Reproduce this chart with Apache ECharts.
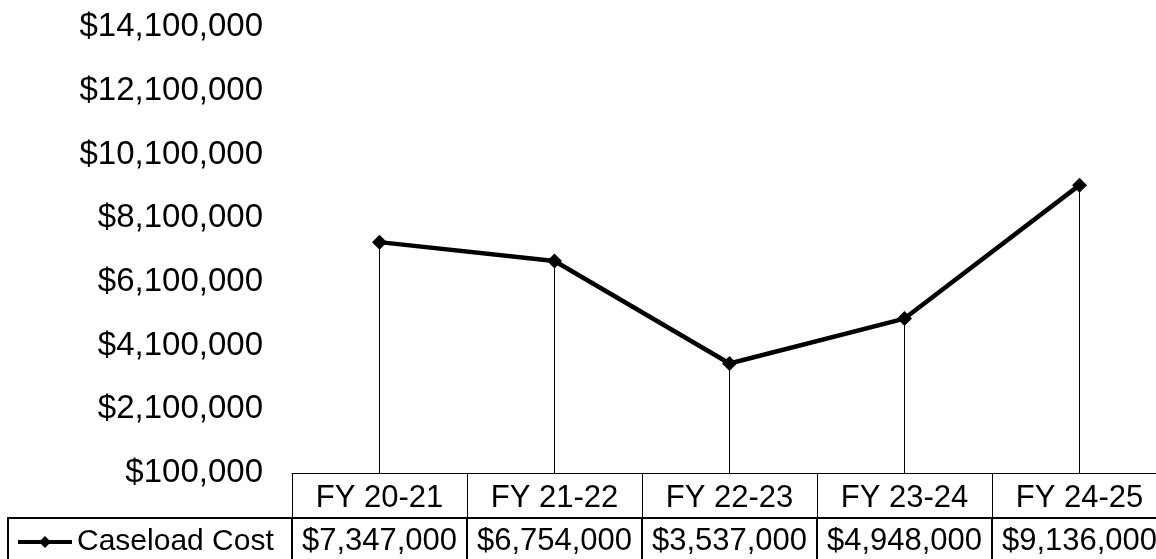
<!DOCTYPE html>
<html>
<head>
<meta charset="utf-8">
<script src="https://cdn.jsdelivr.net/npm/echarts@6/dist/echarts.min.js"></script>
<style>
  html, body { margin: 0; padding: 0; background: #ffffff; }
  #chart { width: 1156px; height: 559px; }
</style>
</head>
<body>
<div id="chart"></div>
<script>
  // data
  const categories = ['FY 20-21', 'FY 21-22', 'FY 22-23', 'FY 23-24', 'FY 24-25'];
  const caseloadCost = [7347000, 6754000, 3537000, 4948000, 9136000];
  const seriesName = 'Caseload Cost';
  const yMin = 100000, yMax = 14100000, yStep = 2000000;

  const money = v => '$' + Number(v).toLocaleString('en-US');
  const font = 'Liberation Sans';

  // drop lines from each point down to the axis
  const dropLines = categories.map((c, i) => [
    { coord: [c, caseloadCost[i]] },
    { coord: [c, yMin] }
  ]);

  const chart = echarts.init(document.getElementById('chart'));
  const option = {
    animation: false,
    backgroundColor: '#ffffff',
    textStyle: { fontFamily: font },
    grid: { left: 292, top: 27, width: 875, bottom: 86, outerBoundsMode: 'none', containLabel: false },
    legend: {
      left: 16,
      top: 527,
      padding: 0,
      itemWidth: 54,
      itemHeight: 15,
      itemGap: 10,
      lineStyle: { width: 4, color: '#000' },
      textStyle: { fontSize: 30, color: '#000', fontFamily: font },
      data: [seriesName]
    },
    xAxis: [
      {
        type: 'category',
        data: categories,
        position: 'bottom',
        boundaryGap: true,
        axisLine: { show: true, lineStyle: { color: '#000', width: 1 } },
        axisTick: { show: true, alignWithLabel: false, length: 45, lineStyle: { color: '#000', width: 1 } },
        axisLabel: { interval: 0, fontSize: 31, color: '#000', margin: 10, fontFamily: font },
        splitLine: { show: false }
      },
      {
        type: 'category',
        data: caseloadCost.map(money),
        position: 'bottom',
        offset: 45,
        boundaryGap: true,
        axisLine: { show: true, lineStyle: { color: '#000', width: 2 } },
        axisTick: { show: true, alignWithLabel: false, length: 45, lineStyle: { color: '#000', width: 2 } },
        axisLabel: { interval: 0, fontSize: 31, color: '#000', margin: 8, fontFamily: font },
        splitLine: { show: false }
      }
    ],
    yAxis: {
      type: 'value',
      min: yMin,
      max: yMax,
      interval: yStep,
      axisLine: { show: false },
      axisTick: { show: false },
      splitLine: { show: false },
      axisLabel: { fontSize: 33, color: '#000', margin: 29, padding: [4, 0, 0, 0], fontFamily: font, formatter: money }
    },
    graphic: [
      {
        type: 'polyline',
        shape: { points: [[8, 580], [8, 518], [292, 518]] },
        style: { fill: 'none', stroke: '#000', lineWidth: 2 },
        z: 10
      }
    ],
    series: [
      {
        name: seriesName,
        type: 'line',
        xAxisIndex: 0,
        data: caseloadCost,
        symbol: 'diamond',
        symbolSize: 15,
        lineStyle: { color: '#000', width: 4.5 },
        itemStyle: { color: '#000' },
        markLine: {
          silent: true,
          symbol: ['none', 'none'],
          label: { show: false },
          lineStyle: { color: '#000', width: 1, type: 'solid' },
          data: dropLines
        },
        z: 3
      }
    ]
  };
  chart.setOption(option);
  window.addEventListener('resize', function() { chart.resize(); });
</script>
</body>
</html>
